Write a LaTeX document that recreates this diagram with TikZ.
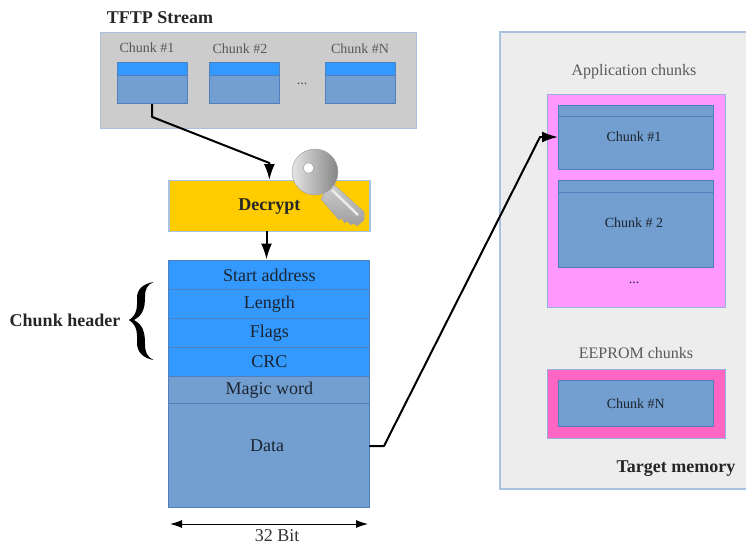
\documentclass[tikz,border=0pt]{standalone}
\usepackage{fontspec}
\setmainfont{Liberation Serif}
\usetikzlibrary{arrows.meta,shadings}
\definecolor{hdr}{HTML}{3399FF}
\definecolor{steel}{HTML}{729FCF}
\definecolor{edge}{HTML}{4F80BE}
\definecolor{pale}{HTML}{A9C2E0}
\definecolor{ink}{HTML}{1C2430}
\definecolor{gold}{HTML}{FFCC00}
\definecolor{apppink}{HTML}{FF99FF}
\definecolor{eepink}{HTML}{FF66C4}
\tikzset{
  cell/.style={draw=edge,line width=1pt,anchor=north west,inner sep=0pt,font=\fontsize{18}{18}\selectfont,text=ink},
  hcell/.style={cell,fill=hdr},
  dcell/.style={cell,fill=steel},
  small/.style={font=\fontsize{14}{14}\selectfont},
  panel/.style={draw=pale,line width=1.2pt,anchor=north west,inner sep=0pt},
  capt/.style={inner sep=0pt,font=\fontsize{16}{16}\selectfont,text=black!65},
  bold/.style={inner sep=0pt,font=\bfseries\fontsize{18}{18}\selectfont,text=black!85},
  link/.style={draw=black,line width=2pt,line join=round,-{Latex[length=16pt,width=11pt]}},
  dimen/.style={draw=black,line width=1pt,{Latex[length=12pt,width=8pt]}-{Latex[length=12pt,width=8pt]}}
}
\begin{document}
\begin{tikzpicture}[x=1pt,y=-1pt]
\useasboundingbox (0,0) rectangle (746,546);
% stream
\node[panel,fill=black!20,minimum width=316pt,minimum height=96pt] (stream) at (99.5,32) {};
\node[bold] (streamtitle) at (160,18) {TFTP Stream};
\node[capt,small] (la) at (147,48) {Chunk \#1};
\node[capt,small] (lb) at (240,48.5) {Chunk \#2};
\node[capt,small] (lc) at (360,49) {Chunk \#N};
\node[hcell,minimum width=70pt,minimum height=13pt] (ah) at (116.7,62) {};
\node[dcell,minimum width=70pt,minimum height=28pt] (ab) at (116.7,75) {};
\node[hcell,minimum width=70pt,minimum height=13pt] (bh) at (208.7,62) {};
\node[dcell,minimum width=70pt,minimum height=28pt] (bb) at (208.7,75) {};
\node[hcell,minimum width=70pt,minimum height=13pt] (ch) at (324.7,62) {};
\node[dcell,minimum width=70pt,minimum height=28pt] (cb) at (324.7,75) {};
\node[inner sep=0pt,small,text=black!70] (sdots) at (302,84) {...};
% decrypt
\node[cell,draw=pale,line width=1.2pt,fill=gold,minimum width=201pt,minimum height=51pt,font=\bfseries\fontsize{18}{18}\selectfont,text=black!85] (dec) at (168.3,180) {Decrypt};
% table
\node[hcell,minimum width=201pt,minimum height=29pt,yshift=0pt] (t1) at (168.3,260) {Start address};
\node[hcell,minimum width=201pt,minimum height=28.7pt] (t2) at (168.3,289) {Length};
\node[hcell,minimum width=201pt,minimum height=29pt] (t3) at (168.3,317.7) {Flags};
\node[hcell,minimum width=201pt,minimum height=29pt] (t4) at (168.3,346.7) {CRC};
\node[dcell,minimum width=201pt,minimum height=27.6pt] (t5) at (168.3,375.7) {Magic word};
\node[dcell,minimum width=201pt,minimum height=103.4pt] (t6) at (168.3,403.3) {};
\node[inner sep=0pt,font=\fontsize{18}{18}\selectfont,text=ink] (datal) at (267,446) {Data};
\coordinate (dataout) at (369.3,446);
% brace
\node[bold] (chl) at (65,320) {Chunk header};
\fill[black] (153.5,282) .. controls (143,284) and (137,289) .. (137,298)
  .. controls (137,306) and (138,314) .. (129,320)
  .. controls (138,326) and (137,334) .. (137,343)
  .. controls (137,352) and (143,358) .. (153.5,360)
  .. controls (147,357) and (145,352) .. (145,344)
  .. controls (145,332) and (143,325) .. (134,320)
  .. controls (143,315) and (145,308) .. (145,297)
  .. controls (145,289) and (147,285) .. (153.5,282) -- cycle;
% width
\coordinate (wl) at (170,524);
\coordinate (wr) at (368,524);
\draw[dimen] (wl) -- (wr);
\node[inner sep=0pt,font=\fontsize{18}{18}\selectfont,text=black!80] (bit) at (277,536) {32 Bit};
% target
\path[fill=black!7,draw=pale,line width=1.2pt] (746.5,32) -- (500,32) -- (500,489) -- (746.5,489);
\node[capt] (appl) at (634,72) {Application chunks};
\node[panel,draw=edge!60,fill=apppink,minimum width=178pt,minimum height=212.7pt] (app) at (546.7,94) {};
\node[dcell,minimum width=154.5pt,minimum height=10.7pt] (t1h) at (558,105.3) {};
\node[dcell,small,minimum width=154.5pt,minimum height=52.7pt] (t1b) at (558,116) {};
\node[inner sep=0pt,small,text=ink] (t1l) at (634,136.5) {Chunk \#1};
\node[dcell,minimum width=154.5pt,minimum height=11.7pt] (t2h) at (558,180) {};
\node[dcell,minimum width=154.5pt,minimum height=75pt] (t2b) at (558,191.7) {};
\node[inner sep=0pt,small,text=ink] (t2l) at (634,222.5) {Chunk \# 2};
\node[inner sep=0pt,small,text=ink] (adots) at (634,283) {...};
\node[capt] (eel) at (636,353) {EEPROM chunks};
\node[panel,draw=edge!60,fill=eepink,minimum width=178pt,minimum height=68.7pt] (ee) at (546.7,369) {};
\node[dcell,small,minimum width=154.5pt,minimum height=46pt] (eec) at (558,380) {Chunk \#N};
\node[bold] (tml) at (676,469) {Target memory};
% connectors
\coordinate (ya) at (0,117);
\coordinate (yb) at (0,163);
\coordinate (c1) at (ab.south |- ya);
\coordinate (c2) at (dec.north |- yb);
\draw[link] (ab.south) -- (c1) -- (c2) -- (dec.north);
\coordinate (dt) at (266.5,231);
\coordinate (db) at (266.5,259.5);
\draw[link] (dt) -- (db);
\coordinate (k1) at (384,446);
\coordinate (k2) at (540,137);
\coordinate (k3) at (t1b.west |- k2);
\draw[link] (dataout) -- (k1) -- (k2) -- (k3);
% key
\path[top color=black!18,bottom color=black!38,draw=black!35,line width=0.5pt]
  (330,181) -- (364,212) -- (364,220) -- (357,226) -- (353,223) -- (351,225) -- (347,221) -- (345,223) -- (341,218) -- (339,220) -- (321,199) -- cycle;
\draw[black!8,line width=2.5pt] (332,190) -- (358,215);
\path[left color=black!10,right color=black!48,draw=black!35,line width=0.5pt,even odd rule]
  (315,172) circle[radius=23] (308.5,168) circle[radius=5.3];
\end{tikzpicture}
\end{document}
